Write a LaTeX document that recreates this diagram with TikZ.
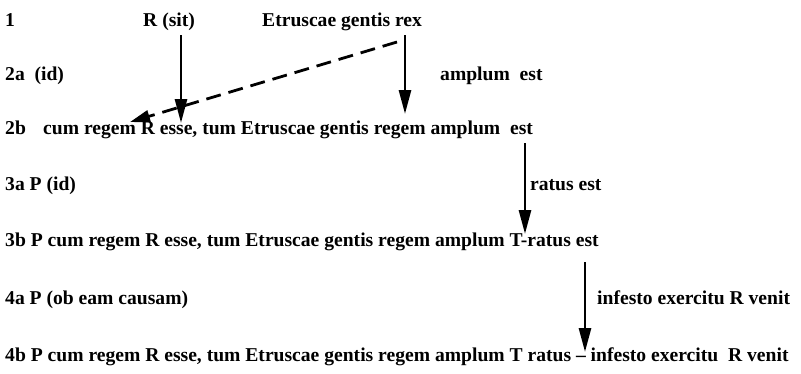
\documentclass[tikz,border=0pt]{standalone}
\usepackage{fontspec}
\setmainfont{Liberation Serif}
\usetikzlibrary{arrows.meta}
\begin{document}
\begin{tikzpicture}[x=1pt,y=-1pt,
  txt/.style={anchor=base west, inner sep=0pt, font=\fontsize{19.6}{22}\selectfont\bfseries},
  arr/.style={line width=2.8pt, -{Triangle[length=24pt,width=12pt]}},
  darr/.style={line width=2.8pt, dash pattern=on 15pt off 8pt, -{Triangle[length=20pt,width=12pt]}}]
\useasboundingbox (0,0) rectangle (801,373);
% row 1
\node[txt] (l1) at (5,26) {1};
\node[txt] (rsit) at (143,26) {R (sit)};
\node[txt] (etr) at (262,26) {Etruscae gentis rex};
% row 2a
\node[txt] (l2a) at (5,80) {2a\ \ (id)};
\node[txt] (amp) at (440,80) {amplum\ \ est};
% row 2b
\node[txt] (l2b) at (5,134) {2b};
\node[txt] (s2b) at (43,134) {cum regem R esse, tum Etruscae gentis regem amplum\ \ est};
% row 3a
\node[txt] (l3a) at (5,190) {3a P (id)};
\node[txt] (ratus) at (530,190) {ratus est};
% row 3b
\node[txt] (l3b) at (5,246) {3b P cum regem R esse, tum Etruscae gentis regem amplum T-ratus est};
% row 4a
\node[txt] (l4a) at (5,304) {4a P (ob eam causam)};
\node[txt] (inf) at (597,304) {infesto exercitu R venit};
% row 4b
\node[txt] (l4b) at (5,361) {4b P cum regem R esse, tum Etruscae gentis regem amplum T ratus -- infesto exercitu\ \ R venit};
% arrow end points
\coordinate (a1s) at (181,35);  \coordinate (a1e) at (181,123);
\coordinate (a2s) at (405,35);  \coordinate (a2e) at (405,114);
\coordinate (ds)  at (397,42);  \coordinate (de)  at (130,122);
\coordinate (a3s) at (525,143); \coordinate (a3e) at (525,234);
\coordinate (a4s) at (585,262); \coordinate (a4e) at (585,352);
\draw[arr] (a1s) -- (a1e);
\draw[arr] (a2s) -- (a2e);
\draw[darr] (ds) -- (de);
\draw[arr] (a3s) -- (a3e);
\draw[arr] (a4s) -- (a4e);
\end{tikzpicture}
\end{document}
